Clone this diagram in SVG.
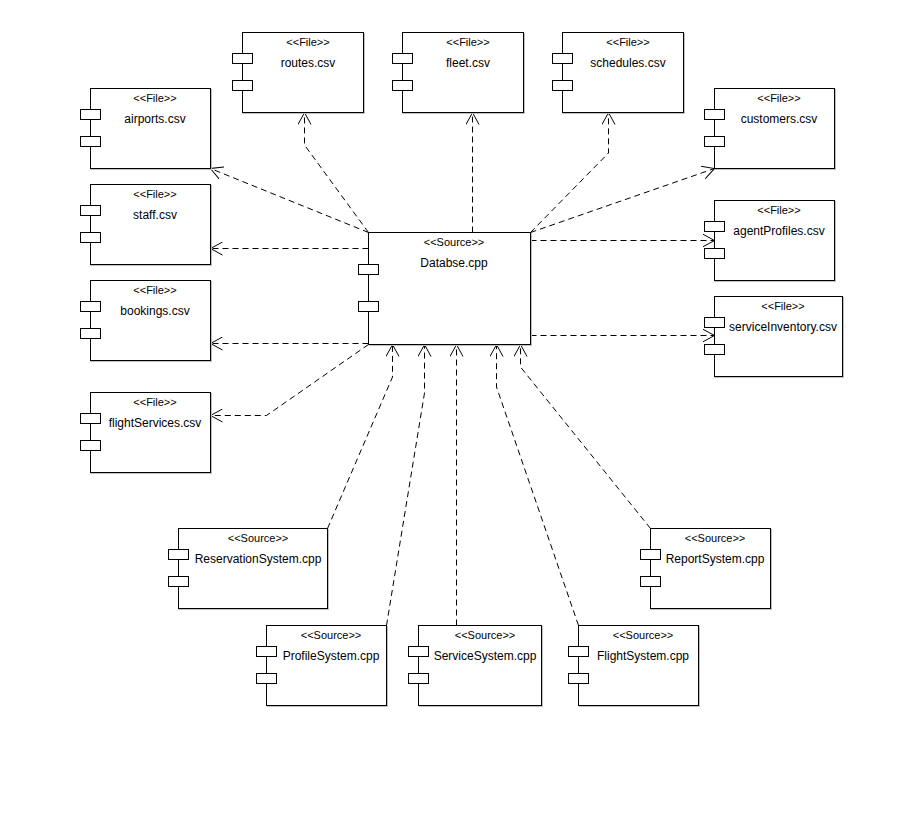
<svg xmlns="http://www.w3.org/2000/svg" width="922" height="832" viewBox="0 0 922 832">
<style>
  .box { fill: #ffffff; stroke: #000000; stroke-width: 1; }
  .shadow { fill: #c0c0c0; stroke: none; }
  .port { fill: #ffffff; stroke: #000000; stroke-width: 1; }
  .st { font-family: "Liberation Sans", Arial, sans-serif; font-size: 11px; fill: #000; text-anchor: middle; }
  .nm { font-family: "Liberation Sans", Arial, sans-serif; font-size: 12px; fill: #000; text-anchor: middle; }
  .dep { fill: none; stroke: #000000; stroke-width: 1; stroke-dasharray: 6 4; marker-end: url(#arr); }
</style>
<defs>
  <marker id="arr" markerWidth="14" markerHeight="14" refX="12" refY="7" orient="auto" markerUnits="userSpaceOnUse">
    <path d="M0,0.5 L12,7 L0,13.5" fill="none" stroke="#000000" stroke-width="1" stroke-dasharray="none"/>
  </marker>
</defs>
<rect x="0" y="0" width="922" height="832" fill="#ffffff"/>

<g id="connectors">
  <path class="dep" d="M368.5,232.5 L210.5,168.5"/>
  <path class="dep" d="M368.5,232.5 L304.5,145 L304.5,112.5"/>
  <path class="dep" d="M472.5,232.5 L472.5,112.5"/>
  <path class="dep" d="M530.5,232.5 L608.5,153 L608.5,112.5"/>
  <path class="dep" d="M530.5,232.5 L714.5,168.5"/>
  <path class="dep" d="M368.5,248.5 L210.5,248.5"/>
  <path class="dep" d="M530.5,240.5 L714.5,240.5"/>
  <path class="dep" d="M368.5,343.5 L210.5,343.5"/>
  <path class="dep" d="M530.5,335.5 L714.5,335.5"/>
  <path class="dep" d="M368.5,344.5 L266.5,415.5 L210.5,415.5"/>
  <path class="dep" d="M327.5,528.5 L392.5,377 L392.5,344.5"/>
  <path class="dep" d="M386.5,625.5 L424.5,393 L424.5,344.5"/>
  <path class="dep" d="M456.5,625.5 L456.5,344.5"/>
  <path class="dep" d="M578.5,625.5 L496.5,387 L496.5,344.5"/>
  <path class="dep" d="M650.5,528.5 L520.5,367 L520.5,344.5"/>
</g>

<g id="airports">
  <rect class="shadow" x="91" y="89" width="121" height="81"/>
  <rect class="box" x="90.5" y="88.5" width="120" height="80"/>
  <rect class="port" x="80.5" y="109.5" width="20" height="10"/>
  <rect class="port" x="80.5" y="136.5" width="20" height="10"/>
  <text class="st" x="155" y="102">&lt;&lt;File&gt;&gt;</text>
  <text class="nm" x="155" y="123">airports.csv</text>
</g>

<g id="routes">
  <rect class="shadow" x="243" y="33" width="122" height="81"/>
  <rect class="box" x="242.5" y="32.5" width="121" height="80"/>
  <rect class="port" x="232.5" y="53.5" width="20" height="10"/>
  <rect class="port" x="232.5" y="80.5" width="20" height="10"/>
  <text class="st" x="308" y="46">&lt;&lt;File&gt;&gt;</text>
  <text class="nm" x="308" y="67">routes.csv</text>
</g>

<g id="fleet">
  <rect class="shadow" x="403" y="33" width="122" height="81"/>
  <rect class="box" x="402.5" y="32.5" width="121" height="80"/>
  <rect class="port" x="392.5" y="53.5" width="20" height="10"/>
  <rect class="port" x="392.5" y="80.5" width="20" height="10"/>
  <text class="st" x="468" y="46">&lt;&lt;File&gt;&gt;</text>
  <text class="nm" x="468" y="67">fleet.csv</text>
</g>

<g id="schedules">
  <rect class="shadow" x="563" y="33" width="122" height="81"/>
  <rect class="box" x="562.5" y="32.5" width="121" height="80"/>
  <rect class="port" x="552.5" y="53.5" width="20" height="10"/>
  <rect class="port" x="552.5" y="80.5" width="20" height="10"/>
  <text class="st" x="628" y="46">&lt;&lt;File&gt;&gt;</text>
  <text class="nm" x="628" y="67">schedules.csv</text>
</g>

<g id="customers">
  <rect class="shadow" x="715" y="89" width="121" height="81"/>
  <rect class="box" x="714.5" y="88.5" width="120" height="80"/>
  <rect class="port" x="704.5" y="109.5" width="20" height="10"/>
  <rect class="port" x="704.5" y="136.5" width="20" height="10"/>
  <text class="st" x="779" y="102">&lt;&lt;File&gt;&gt;</text>
  <text class="nm" x="779" y="123">customers.csv</text>
</g>

<g id="staff">
  <rect class="shadow" x="91" y="185" width="121" height="81"/>
  <rect class="box" x="90.5" y="184.5" width="120" height="80"/>
  <rect class="port" x="80.5" y="205.5" width="20" height="10"/>
  <rect class="port" x="80.5" y="232.5" width="20" height="10"/>
  <text class="st" x="155" y="198">&lt;&lt;File&gt;&gt;</text>
  <text class="nm" x="155" y="219">staff.csv</text>
</g>

<g id="bookings">
  <rect class="shadow" x="91" y="281" width="121" height="81"/>
  <rect class="box" x="90.5" y="280.5" width="120" height="80"/>
  <rect class="port" x="80.5" y="301.5" width="20" height="10"/>
  <rect class="port" x="80.5" y="328.5" width="20" height="10"/>
  <text class="st" x="155" y="294">&lt;&lt;File&gt;&gt;</text>
  <text class="nm" x="155" y="315">bookings.csv</text>
</g>

<g id="flightServices">
  <rect class="shadow" x="91" y="393" width="121" height="81"/>
  <rect class="box" x="90.5" y="392.5" width="120" height="80"/>
  <rect class="port" x="80.5" y="413.5" width="20" height="10"/>
  <rect class="port" x="80.5" y="440.5" width="20" height="10"/>
  <text class="st" x="155" y="406">&lt;&lt;File&gt;&gt;</text>
  <text class="nm" x="155" y="427">flightServices.csv</text>
</g>

<g id="database">
  <rect class="shadow" x="369" y="233" width="163" height="113"/>
  <rect class="box" x="368.5" y="232.5" width="162" height="112"/>
  <rect class="port" x="358.5" y="264.5" width="20" height="10"/>
  <rect class="port" x="358.5" y="301.5" width="20" height="10"/>
  <text class="st" x="454" y="246">&lt;&lt;Source&gt;&gt;</text>
  <text class="nm" x="454" y="267">Databse.cpp</text>
</g>

<g id="agentProfiles">
  <rect class="shadow" x="715" y="201" width="121" height="81"/>
  <rect class="box" x="714.5" y="200.5" width="120" height="80"/>
  <rect class="port" x="704.5" y="221.5" width="20" height="10"/>
  <rect class="port" x="704.5" y="248.5" width="20" height="10"/>
  <text class="st" x="779" y="214">&lt;&lt;File&gt;&gt;</text>
  <text class="nm" x="779" y="235">agentProfiles.csv</text>
</g>

<g id="serviceInventory">
  <rect class="shadow" x="715" y="297" width="129" height="81"/>
  <rect class="box" x="714.5" y="296.5" width="128" height="80"/>
  <rect class="port" x="704.5" y="317.5" width="20" height="10"/>
  <rect class="port" x="704.5" y="344.5" width="20" height="10"/>
  <text class="st" x="783" y="310">&lt;&lt;File&gt;&gt;</text>
  <text class="nm" x="783" y="331">serviceInventory.csv</text>
</g>

<g id="reservationSystem">
  <rect class="shadow" x="179" y="529" width="150" height="81"/>
  <rect class="box" x="178.5" y="528.5" width="149" height="80"/>
  <rect class="port" x="168.5" y="549.5" width="20" height="10"/>
  <rect class="port" x="168.5" y="576.5" width="20" height="10"/>
  <text class="st" x="258" y="542">&lt;&lt;Source&gt;&gt;</text>
  <text class="nm" x="258" y="563">ReservationSystem.cpp</text>
</g>

<g id="reportSystem">
  <rect class="shadow" x="651" y="529" width="121" height="81"/>
  <rect class="box" x="650.5" y="528.5" width="120" height="80"/>
  <rect class="port" x="640.5" y="549.5" width="20" height="10"/>
  <rect class="port" x="640.5" y="576.5" width="20" height="10"/>
  <text class="st" x="715" y="542">&lt;&lt;Source&gt;&gt;</text>
  <text class="nm" x="715" y="563">ReportSystem.cpp</text>
</g>

<g id="profileSystem">
  <rect class="shadow" x="267" y="626" width="121" height="81"/>
  <rect class="box" x="266.5" y="625.5" width="120" height="80"/>
  <rect class="port" x="256.5" y="646.5" width="20" height="10"/>
  <rect class="port" x="256.5" y="673.5" width="20" height="10"/>
  <text class="st" x="331" y="639">&lt;&lt;Source&gt;&gt;</text>
  <text class="nm" x="331" y="660">ProfileSystem.cpp</text>
</g>

<g id="serviceSystem">
  <rect class="shadow" x="419" y="626" width="124" height="81"/>
  <rect class="box" x="418.5" y="625.5" width="123" height="80"/>
  <rect class="port" x="408.5" y="646.5" width="20" height="10"/>
  <rect class="port" x="408.5" y="673.5" width="20" height="10"/>
  <text class="st" x="485" y="639">&lt;&lt;Source&gt;&gt;</text>
  <text class="nm" x="485" y="660">ServiceSystem.cpp</text>
</g>

<g id="flightSystem">
  <rect class="shadow" x="579" y="626" width="121" height="81"/>
  <rect class="box" x="578.5" y="625.5" width="120" height="80"/>
  <rect class="port" x="568.5" y="646.5" width="20" height="10"/>
  <rect class="port" x="568.5" y="673.5" width="20" height="10"/>
  <text class="st" x="643" y="639">&lt;&lt;Source&gt;&gt;</text>
  <text class="nm" x="643" y="660">FlightSystem.cpp</text>
</g>
</svg>
